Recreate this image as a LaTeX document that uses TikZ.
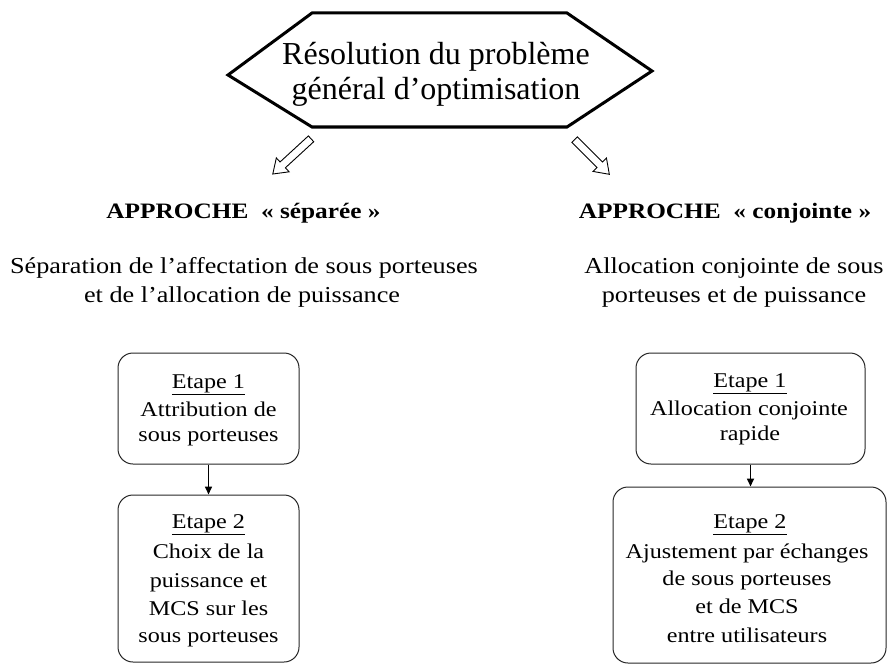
\documentclass[tikz,border=0pt]{standalone}
\usepackage{fontspec}
\setmainfont{Liberation Serif}[FakeStretch=1.15]
\newfontfamily\hexfont{Liberation Serif}
\usetikzlibrary{shapes.arrows,arrows.meta}
\begin{document}
\begin{tikzpicture}[x=1pt,y=-1pt,
  txt/.style={anchor=base, inner sep=0pt, font=\fontsize{21}{25}\selectfont},
  para/.style={anchor=base, inner sep=0pt, font=\fontsize{22.8}{28}\selectfont},
  head/.style={anchor=base, inner sep=0pt, font=\fontsize{22}{26}\selectfont\bfseries},
  hex/.style={anchor=base, inner sep=0pt, font=\hexfont\fontsize{32}{35}\selectfont},
  stepbox/.style={draw=black!85, line width=1pt, rounded corners=15pt, inner sep=0pt},
  blockarrow/.style={single arrow, draw, line width=0.9pt, inner sep=3.5pt,
    single arrow head extend=5.5pt, single arrow tip angle=70, minimum width=18pt},
  flow/.style={-{Triangle[length=8pt,width=7pt]}, line width=1.6pt}]
\useasboundingbox (0,0) rectangle (888,666);

% title hexagon
\draw[line width=3pt, line join=miter] (228,75) -- (312,13) -- (567,13) -- (652,71) -- (567,127) -- (312,127) -- cycle;
\node[hex] (h1) at (436,65) {Résolution du problème};
\node[hex] (h2) at (436,100) {général d’optimisation};

% hollow block arrows
\node[blockarrow, minimum height=52pt, rotate=222.6] (a1) at (294,154.5) {};
\node[blockarrow, minimum height=49pt, rotate=-45] (a2) at (590,155) {};

% headings
\node[head] (la) at (243.5,218) {APPROCHE~~«~séparée~»};
\node[head] (ra) at (725,218) {APPROCHE~~«~conjointe~»};

% descriptions
\node[para] (lp1) at (244,273) {Séparation de l’affectation de sous porteuses};
\node[para] (lp2) at (242,302) {et de l’allocation de puissance};
\node[para] (rp1) at (734,273) {Allocation conjointe de sous};
\node[para] (rp2) at (734,302) {porteuses et de puissance};

% boxes
\node[stepbox, minimum width=181pt, minimum height=111pt] (b1) at (208.5,408.5) {};
\node[stepbox, minimum width=181pt, minimum height=167pt] (b2) at (208.5,578.5) {};
\node[stepbox, minimum width=229pt, minimum height=111pt] (b3) at (750.5,408.5) {};
\node[stepbox, minimum width=273pt, minimum height=176pt] (b4) at (749.5,575) {};

\draw[flow] (b1.south) -- (b2.north);
\draw[flow] (b3.south) -- (b3.south |- b4.north);

% left box texts
\node[txt] (l11) at (208.5,388) {\underline{Etape 1}};
\node[txt] (l12) at (208.5,416) {Attribution de};
\node[txt] (l13) at (208.5,441) {sous porteuses};
\node[txt] (l21) at (208.5,528) {\underline{Etape 2}};
\node[txt] (l22) at (208.5,558) {Choix de la};
\node[txt] (l23) at (208.5,587) {puissance et};
\node[txt] (l24) at (208.5,615) {MCS sur les};
\node[txt] (l25) at (208.5,642) {sous porteuses};

% right box texts
\node[txt] (r11) at (750,387) {\underline{Etape 1}};
\node[txt] (r12) at (749,415) {Allocation conjointe};
\node[txt] (r13) at (750,440) {rapide};
\node[txt] (r21) at (750,528) {\underline{Etape 2}};
\node[txt] (r22) at (747,558) {Ajustement par échanges};
\node[txt] (r23) at (747,585) {de sous porteuses};
\node[txt] (r24) at (747,613) {et de MCS};
\node[txt] (r25) at (747,642) {entre utilisateurs};
\end{tikzpicture}
\end{document}
